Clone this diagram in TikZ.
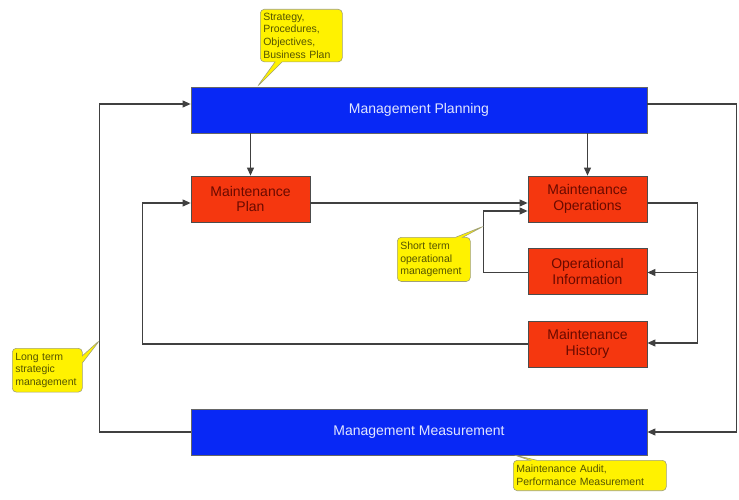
\documentclass[tikz,border=0pt]{standalone}
\usepackage{fontspec}
\setmainfont{Liberation Sans}
\usetikzlibrary{arrows.meta,shapes.callouts}
\definecolor{myblue}{RGB}{8,40,245}
\definecolor{myred}{RGB}{245,55,15}
\definecolor{redtext}{RGB}{105,10,0}
\definecolor{bluetext}{RGB}{225,230,255}
\definecolor{notetext}{RGB}{85,85,0}
\definecolor{noteedge}{RGB}{160,160,120}
\begin{document}
\begin{tikzpicture}[x=1pt,y=-1pt,
 conn/.style={draw=black!75, line width=1.1pt},
 arr/.style={conn,-{Triangle[length=8pt,width=7pt]}},
 bluebox/.style={draw=black!60, line width=0.8pt, fill=myblue, text=bluetext, minimum width=456pt, minimum height=46pt, inner sep=0pt, font=\fontsize{14}{16}\selectfont},
 redbox/.style={draw=black!70, line width=0.8pt, fill=myred, text=redtext, minimum width=119pt, minimum height=46pt, inner sep=0pt, align=center, font=\fontsize{14}{15.5}\selectfont},
 note/.style={rectangle callout, fill=yellow, draw=noteedge, line width=0.6pt, rounded corners=4pt, text=notetext, align=left, font=\fontsize{10.5}{12.7}\selectfont, inner xsep=3pt, inner ysep=3.5pt, anchor=north west}
]
\useasboundingbox (0,0) rectangle (739,500);

\node[bluebox] (mp) at (419,110) {Management Planning};
\node[bluebox] (mm) at (419,432) {Management Measurement};
\node[redbox] (plan) at (250.5,199) {Maintenance\\Plan};
\node[redbox] (ops) at (587.5,199) {Maintenance\\Operations};
\node[redbox] (info) at (587.5,271.5) {Operational\\Information};
\node[redbox] (hist) at (587.5,344) {Maintenance\\History};

\draw[arr] (mp.south -| plan.north) -- (plan.north);
\draw[arr] (mp.south -| ops.north) -- (ops.north);
\draw[arr] ([yshift=-4pt]plan.east) -- ([yshift=-4pt]plan.east -| ops.west);
\draw[arr] ([yshift=-1pt]info.west) -- ++(-44,0) coordinate (sj) |- ([yshift=-12pt]ops.west);
\draw[arr] ([yshift=-4pt]ops.east) -- ++(50,0) coordinate (rj) |- ([yshift=1pt]hist.east);
\draw[arr] (rj |- info.east) ++(0,1) -- ([yshift=-1pt]info.east);
\draw[arr] (hist.west) -- ++(-385,0) |- ([yshift=-4pt]plan.west);
\draw[arr] ([yshift=6pt]mp.east) -- ++(89,0) |- (mm.east);
\draw[arr] (mm.west) -- ++(-91,0) |- ([yshift=6pt]mp.west);

\node[note, text width=76pt, callout absolute pointer={(257,87)}] (n1) at (260,9)
 {Strategy,\\Procedures,\\Objectives,\\Business Plan};
\node[note, text width=67pt, inner ysep=4.5pt, callout absolute pointer={(484,226)}] (n2) at (397,237)
 {Short term\\operational\\management};
\node[note, text width=64pt, inner ysep=4.5pt, callout absolute pointer={(100,340)}] (n3) at (12,348)
 {Long term\\strategic\\management};
\node[note, text width=147pt, inner ysep=5pt, callout absolute pointer={(514,455)}] (n4) at (513,460)
 {Maintenance Audit,\\Performance Measurement};
\end{tikzpicture}
\end{document}
